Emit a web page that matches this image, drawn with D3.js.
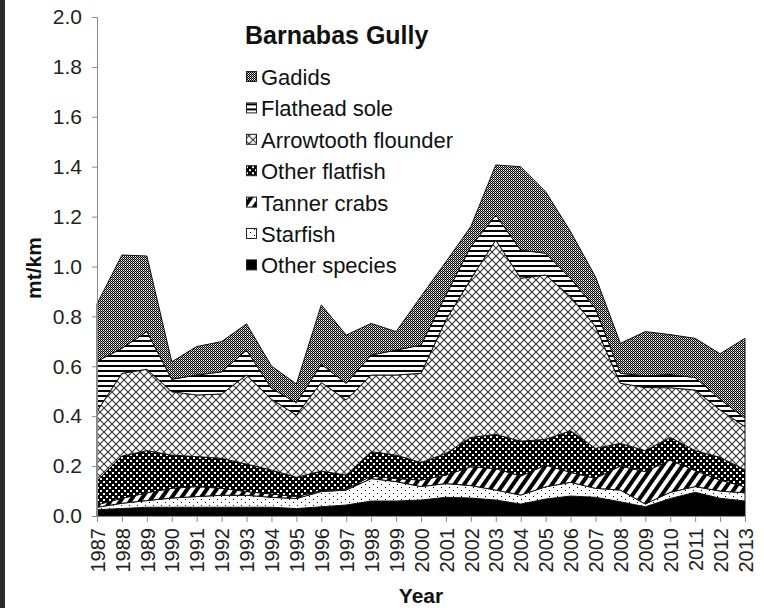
<!DOCTYPE html>
<html>
<head>
<meta charset="utf-8">
<script src="https://cdn.jsdelivr.net/npm/d3@7"></script>
<style>
  html, body { margin: 0; padding: 0; background: #fff; }
  body { width: 764px; height: 608px; overflow: hidden; position: relative; }
  .edge { position: absolute; left: 0; top: 0; width: 5px; height: 608px; background: #2b2b2b; }
  svg text { font-family: "Liberation Sans", Arial, sans-serif; }
</style>
</head>
<body>
<div class="edge"></div>
<div id="chart"></div>
<script>
// years on the category axis
var years = d3.range(1987, 2014);

// series values, mt/km (stacked bottom to top)
var otherSpecies  = [0.025,0.030,0.035,0.035,0.035,0.035,0.035,0.035,0.030,0.037,0.044,0.060,0.060,0.064,0.075,0.072,0.064,0.048,0.068,0.080,0.075,0.057,0.037,0.070,0.095,0.071,0.060];
var starfish      = [0.010,0.021,0.027,0.037,0.043,0.048,0.048,0.040,0.040,0.061,0.060,0.090,0.078,0.054,0.055,0.050,0.040,0.036,0.049,0.055,0.036,0.047,0.011,0.025,0.023,0.029,0.033];
var tannerCrabs   = [0.010,0.020,0.031,0.039,0.040,0.028,0.015,0.013,0.008,0.004,0.004,0.010,0.012,0.026,0.034,0.075,0.086,0.076,0.087,0.040,0.040,0.096,0.130,0.129,0.064,0.044,0.024];
var otherFlatfish = [0.095,0.169,0.169,0.133,0.120,0.120,0.110,0.096,0.077,0.078,0.056,0.098,0.094,0.070,0.087,0.118,0.137,0.140,0.103,0.167,0.120,0.091,0.084,0.091,0.080,0.091,0.068];
var arrowtooth    = [0.280,0.332,0.326,0.254,0.247,0.258,0.357,0.284,0.250,0.355,0.301,0.307,0.321,0.358,0.535,0.635,0.779,0.653,0.659,0.537,0.489,0.241,0.253,0.199,0.243,0.190,0.173];
var flatheadSole  = [0.200,0.100,0.151,0.050,0.080,0.089,0.100,0.044,0.049,0.073,0.067,0.080,0.100,0.113,0.100,0.130,0.100,0.113,0.087,0.074,0.072,0.040,0.047,0.053,0.050,0.043,0.034];
var gadids        = [0.230,0.374,0.303,0.070,0.114,0.121,0.105,0.089,0.075,0.238,0.193,0.127,0.074,0.195,0.133,0.080,0.201,0.334,0.247,0.187,0.127,0.120,0.177,0.160,0.157,0.182,0.320];

// stacking order (bottom first) and legend order (top first)
var seriesKeys = ['Other species','Starfish','Tanner crabs','Other flatfish','Arrowtooth flounder','Flathead sole','Gadids'];
var seriesVals = [otherSpecies, starfish, tannerCrabs, otherFlatfish, arrowtooth, flatheadSole, gadids];
var legendKeys = ['Gadids','Flathead sole','Arrowtooth flounder','Other flatfish','Tanner crabs','Starfish','Other species'];
var yTicks = [0, 0.2, 0.4, 0.6, 0.8, 1.0, 1.2, 1.4, 1.6, 1.8, 2.0];

var width = 764, height = 608;
var x = d3.scaleLinear().domain([1987, 2013]).range([97, 745]);
var y = d3.scaleLinear().domain([0, 2]).range([516, 17]);

var table = years.map(function (yr, i) {
	var row = { year: yr };
	seriesKeys.forEach(function (k, j) { row[k] = seriesVals[j][i]; });
	return row;
});
var stacked = d3.stack().keys(seriesKeys)(table);

var svg = d3.select('#chart').append('svg')
	.attr('width', width)
	.attr('height', height);

// pattern fills, like the old office hatch patterns
var defs = svg.append('defs');
var pat = function (id, w, h, draw, transform) {
	var p = defs.append('pattern')
		.attr('id', id)
		.attr('patternUnits', 'userSpaceOnUse')
		.attr('width', w)
		.attr('height', h);
	if (transform) p.attr('patternTransform', transform);
	draw(p);
};
pat('p-gadids', 2, 2, function (p) {
	p.append('rect').attr('width', 2).attr('height', 2).attr('fill', '#000');
	p.append('rect').attr('x', 1).attr('y', 0).attr('width', 1).attr('height', 1).attr('fill', '#fff');
	p.append('rect').attr('x', 0).attr('y', 1).attr('width', 1).attr('height', 1).attr('fill', '#9a9a9a');
});
pat('p-flathead', 8, 5, function (p) {
	p.append('rect').attr('width', 8).attr('height', 5).attr('fill', '#fff');
	p.append('rect').attr('width', 8).attr('height', 2).attr('fill', '#000');
});
pat('p-arrow', 8, 8, function (p) {
	p.append('rect').attr('width', 8).attr('height', 8).attr('fill', '#fff');
	p.append('path').attr('d', 'M0,0L8,8M8,0L0,8').attr('stroke', '#333').attr('stroke-width', 1.1);
});
pat('p-flatfish', 6, 6, function (p) {
	p.append('rect').attr('width', 6).attr('height', 6).attr('fill', '#000');
	p.append('rect').attr('x', 1).attr('y', 1).attr('width', 2).attr('height', 2).attr('fill', '#fff');
	p.append('rect').attr('x', 4).attr('y', 4).attr('width', 2).attr('height', 2).attr('fill', '#fff');
});
pat('p-tanner', 8, 8, function (p) {
	p.append('rect').attr('width', 8).attr('height', 8).attr('fill', '#fff');
	p.append('rect').attr('width', 4).attr('height', 8).attr('fill', '#000');
}, 'rotate(35)');
pat('p-starfish', 8, 6, function (p) {
	p.append('rect').attr('width', 8).attr('height', 6).attr('fill', '#fff');
	p.append('rect').attr('x', 1).attr('y', 1).attr('width', 1).attr('height', 1).attr('fill', '#000');
	p.append('rect').attr('x', 5).attr('y', 4).attr('width', 1).attr('height', 1).attr('fill', '#000');
});

var fills = {
	'Gadids': 'url(#p-gadids)',
	'Flathead sole': 'url(#p-flathead)',
	'Arrowtooth flounder': 'url(#p-arrow)',
	'Other flatfish': 'url(#p-flatfish)',
	'Tanner crabs': 'url(#p-tanner)',
	'Starfish': 'url(#p-starfish)',
	'Other species': '#000'
};

// areas
var area = d3.area()
	.x(function (d) { return x(d.data.year); })
	.y0(function (d) { return y(d[0]); })
	.y1(function (d) { return y(d[1]); });

svg.append('g')
	.selectAll('path')
	.data(stacked)
	.join('path')
	.attr('d', area)
	.attr('fill', function (d) { return fills[d.key]; })
	.attr('stroke', '#111')
	.attr('stroke-width', 1)
	.attr('stroke-linejoin', 'round');

// y axis
var yAxis = d3.axisLeft(y)
	.tickValues(yTicks)
	.tickFormat(d3.format('.1f'))
	.tickSize(5)
	.tickPadding(10);
var gy = svg.append('g')
	.attr('transform', 'translate(97,0)')
	.call(yAxis);
gy.select('.domain').attr('stroke', '#8c8c8c');
gy.selectAll('.tick line').attr('stroke', '#8c8c8c');
gy.selectAll('.tick text')
	.attr('fill', '#222')
	.style('font-size', '21px');

// x axis
var xAxis = d3.axisBottom(x)
	.tickValues(years)
	.tickFormat(d3.format('d'))
	.tickSize(6)
	.tickSizeOuter(0);
var gx = svg.append('g')
	.attr('transform', 'translate(0,516)')
	.call(xAxis);
gx.select('.domain').attr('stroke', '#8c8c8c');
gx.selectAll('.tick line').attr('stroke', '#8c8c8c');
gx.selectAll('.tick text')
	.attr('fill', '#222')
	.style('font-size', '20px')
	.attr('text-anchor', 'end')
	.attr('transform', 'rotate(-90)')
	.attr('x', -12)
	.attr('y', 0)
	.attr('dy', '0.36em');

// axis titles
svg.append('text')
	.attr('x', 421)
	.attr('y', 603)
	.attr('text-anchor', 'middle')
	.style('font-size', '21px')
	.style('font-weight', 'bold')
	.attr('fill', '#111')
	.text('Year');
svg.append('text')
	.attr('transform', 'translate(41,268) rotate(-90)')
	.attr('text-anchor', 'middle')
	.style('font-size', '21px')
	.style('font-weight', 'bold')
	.attr('fill', '#111')
	.text('mt/km');

// legend with title
var legend = svg.append('g').attr('transform', 'translate(245,0)');
legend.append('text')
	.attr('x', 0)
	.attr('y', 44)
	.style('font-size', '25px')
	.style('font-weight', 'bold')
	.attr('fill', '#111')
	.text('Barnabas Gully');
var item = legend.selectAll('g.item')
	.data(legendKeys)
	.join('g')
	.attr('class', 'item')
	.attr('transform', function (d, i) { return 'translate(0,' + (77 + i * 31.4) + ')'; });
item.append('rect')
	.attr('x', 1.5)
	.attr('y', -5.5)
	.attr('width', 10)
	.attr('height', 10)
	.attr('fill', function (d) { return fills[d]; })
	.attr('stroke', '#222')
	.attr('stroke-width', 1);
item.append('text')
	.attr('x', 16)
	.attr('y', 0)
	.attr('dy', '0.36em')
	.style('font-size', '22px')
	.attr('fill', '#111')
	.text(function (d) { return d; });
</script>
</body>
</html>
